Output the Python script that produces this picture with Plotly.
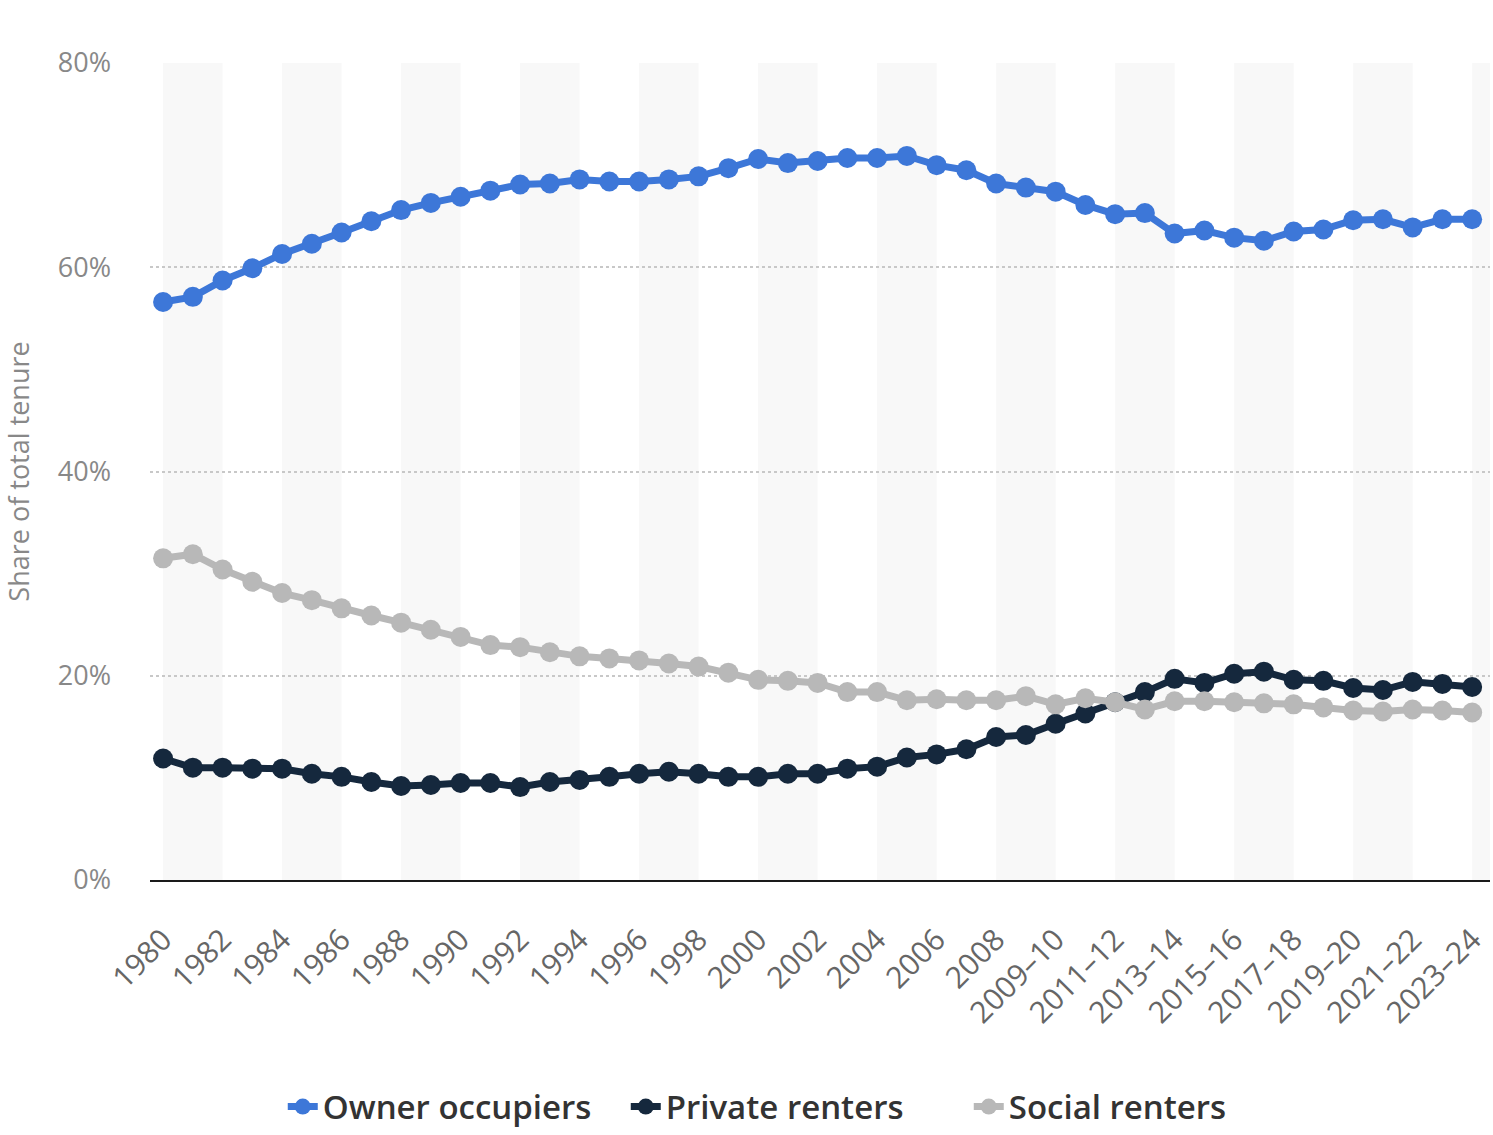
import plotly.graph_objects as go

years = [str(y) for y in range(1980, 2009)]
periods = ["2008–09", "2009–10", "2010–11", "2011–12", "2012–13", "2013–14", "2014–15",
           "2015–16", "2016–17", "2017–18", "2018–19", "2019–20", "2020–21", "2021–22",
           "2022–23", "2023–24"]
categories = years + periods

owner_occupiers = [56.6, 57.1, 58.7, 59.9, 61.3, 62.3, 63.4, 64.5, 65.6, 66.3,
                   66.9, 67.5, 68.1, 68.2, 68.6, 68.4, 68.4, 68.6, 68.9, 69.7,
                   70.6, 70.2, 70.4, 70.7, 70.7, 70.9, 70.0, 69.5, 68.2, 67.8,
                   67.4, 66.1, 65.2, 65.3, 63.3, 63.6, 62.9, 62.6, 63.5, 63.7,
                   64.6, 64.7, 63.9, 64.7, 64.7]
private_renters = [11.9, 11.0, 11.0, 10.9, 10.9, 10.4, 10.1, 9.6, 9.2, 9.3,
                   9.5, 9.5, 9.1, 9.6, 9.8, 10.1, 10.4, 10.6, 10.4, 10.1,
                   10.1, 10.4, 10.4, 10.9, 11.1, 12.0, 12.3, 12.8, 14.0, 14.2,
                   15.3, 16.3, 17.4, 18.4, 19.7, 19.3, 20.2, 20.4, 19.6, 19.5,
                   18.8, 18.6, 19.4, 19.2, 18.9]
social_renters = [31.5, 31.9, 30.4, 29.2, 28.1, 27.4, 26.6, 25.9, 25.2, 24.5,
                  23.8, 23.0, 22.8, 22.3, 21.9, 21.7, 21.5, 21.2, 20.9, 20.3,
                  19.6, 19.5, 19.3, 18.4, 18.4, 17.6, 17.7, 17.6, 17.6, 18.0,
                  17.2, 17.8, 17.4, 16.7, 17.5, 17.5, 17.4, 17.3, 17.2, 16.9,
                  16.6, 16.5, 16.7, 16.6, 16.4]

y_ticks = [0, 20, 40, 60, 80]
y_ticktext = [f"{v}%" for v in y_ticks]
series = [
    ("Owner occupiers", owner_occupiers, "#3d77d8"),
    ("Private renters", private_renters, "#15283d"),
    ("Social renters", social_renters, "#b8b8b8"),
]

fig = go.Figure()
for name, vals, color in series:
    fig.add_trace(go.Scatter(
        x=categories, y=vals, name=name, mode="lines+markers",
        line=dict(color=color, width=7),
        marker=dict(color=color, size=20),
    ))

# alternating background bands (every other pair of categories)
n = len(categories)
for k in range(0, n, 4):
    fig.add_shape(type="rect", xref="x", yref="paper",
                  x0=k, x1=min(k + 2, n + 1), y0=0, y1=1,
                  fillcolor="#f8f8f8", line=dict(width=0), layer="below")

fig.update_layout(
    width=1493, height=1135,
    margin=dict(l=150, r=3, t=63, b=255, autoexpand=False),
    paper_bgcolor="white", plot_bgcolor="white",
    font=dict(family="Open Sans, sans-serif", color="#666666"),
    showlegend=True,
    legend=dict(orientation="h", xref="container", yref="container",
                x=0.534, xanchor="center", y=0.025, yanchor="middle",
                font=dict(size=33, color="#333333", weight=600),
                entrywidth=298, tracegroupgap=0),
)
fig.update_xaxes(
    type="category", range=[-0.44, n - 0.4], automargin=False,
    tickmode="array", tickvals=categories[::2], ticktext=categories[::2],
    tickangle=-45, tickfont=dict(size=30, color="#666666"),
    showgrid=False, showline=True, linecolor="#1a1a1a", linewidth=2,
    ticks="", ticklabelstandoff=28,
)
fig.update_yaxes(
    range=[0, 80], tickmode="array", tickvals=y_ticks, ticktext=y_ticktext,
    automargin=False,
    tickfont=dict(size=27, color="#888888"),
    showgrid=True, gridcolor="#c8c8c8", griddash="dot", gridwidth=1.5,
    zeroline=False, ticklabelstandoff=38,
    title=dict(text="Share of total tenure", font=dict(size=27, color="#888888"), standoff=22),
)

fig.write_html("out.html")
